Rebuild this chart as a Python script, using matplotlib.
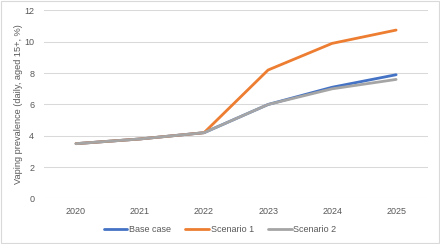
import matplotlib.pyplot as plt
from matplotlib.patches import Rectangle

years = ["2020", "2021", "2022", "2023", "2024", "2025"]
base_case = [3.5, 3.8, 4.2, 6.0, 7.1, 7.9]
scenario_1 = [3.5, 3.8, 4.2, 8.2, 9.9, 10.75]
scenario_2 = [3.5, 3.8, 4.2, 6.0, 7.0, 7.6]

plt.rcParams["font.family"] = ["Liberation Sans", "DejaVu Sans"]
text_color = "#595959"

fig = plt.figure(figsize=(4.4, 2.44), dpi=100)
fig.patches.append(Rectangle((0.002, 0.004), 0.995, 0.992, transform=fig.transFigure,
                             fill=False, edgecolor="#D9D9D9", linewidth=0.8))
ax = fig.add_axes([0.1, 0.1865, 0.873, 0.7705])

x = range(len(years))
ax.plot(x, base_case, color="#4472C4", lw=2, label="Base case", solid_capstyle="round")
ax.plot(x, scenario_1, color="#ED7D31", lw=2, label="Scenario 1", solid_capstyle="round")
ax.plot(x, scenario_2, color="#A5A5A5", lw=2, label="Scenario 2", solid_capstyle="round")

ax.set_xlim(-0.5, len(years) - 0.5)
ax.set_ylim(0, 12)
ax.set_yticks(range(0, 13, 2))
ax.set_xticks(list(x))
ax.set_xticklabels(years)
ax.grid(axis="y", color="#D9D9D9", lw=0.75)
ax.set_axisbelow(True)
for s in ax.spines.values():
    s.set_visible(False)
ax.tick_params(length=0, labelsize=6.5, labelcolor=text_color, pad=6)
ax.tick_params(axis="y", pad=7)

ax.set_ylabel("Vaping prevalence (daily, aged 15+, %)", fontsize=6.6, color=text_color)
ax.yaxis.set_label_coords(-0.055, 0.5)

fig.legend(loc="center", bbox_to_anchor=(0.5, 0.06), ncol=3, frameon=False,
           fontsize=6.5, labelcolor=text_color, handlelength=2.6, handletextpad=0.2,
           columnspacing=1.6)

plt.savefig("out.png", dpi=100)
